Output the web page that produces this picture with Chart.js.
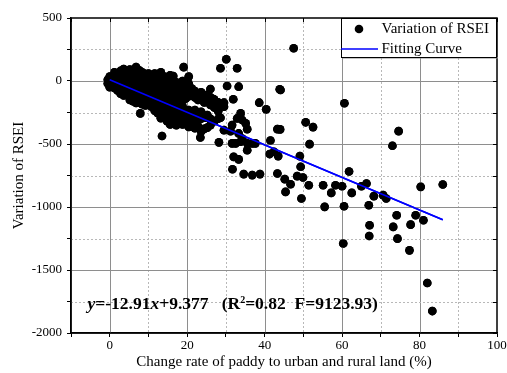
<!DOCTYPE html>
<html>
<head>
<meta charset="utf-8">
<script src="https://cdn.jsdelivr.net/npm/chart.js@4.4.1/dist/chart.umd.min.js"></script>
<style>
  html, body { margin: 0; padding: 0; background: #fff; }
  #wrap { width: 507px; height: 373px; }
</style>
</head>
<body>
<div id="wrap"><canvas id="rseiChart" width="507" height="373"></canvas></div>
<script>
// Dense band near the origin: x of each column and the y values read down it
const bandX = [-0.5, 0, 0.5, 1.2, 2, 2.8, 3.6, 4.4, 5.2, 6, 6.8, 7.6, 8.4, 9.2, 10, 10.8, 11.6, 12.4,
  13.2, 14, 14.8, 15.6, 16.4, 17.2, 18, 18.8, 19.6, 20.4, 21.2, 22, 22.8, 23.6, 24.4, 25.2, 26, 27, 28];
const bandY = [
  [10, -20],
  [35, 0, -30, -50],
  [20, -10, -45],
  [70, 30, -10, -55],
  [60, 20, -30, -75],
  [80, 40, -5, -50, -100],
  [95, 50, 5, -40, -85, -115],
  [70, 25, -20, -65, -110],
  [90, 45, 0, -50, -100, -150],
  [75, 30, -20, -70, -120, -160],
  [110, 60, 10, -40, -90, -140, -175],
  [85, 35, -15, -65, -115, -170],
  [70, 20, -30, -80, -130, -185],
  [55, 5, -45, -95, -145, -195],
  [60, 10, -40, -90, -140, -190],
  [45, -5, -55, -105, -155, -205],
  [60, 15, -35, -85, -135, -185, -235],
  [50, 0, -50, -100, -150, -200, -255],
  [70, 20, -30, -80, -130, -180, -230, -295],
  [35, -15, -65, -115, -165, -215, -270],
  [20, -30, -80, -130, -180, -230, -280, -320],
  [45, -5, -55, -105, -155, -205, -255, -305, -345],
  [40, -40, -90, -140, -190, -240, -290, -335],
  [-10, -60, -110, -160, -210, -260, -310, -350],
  [-30, -80, -130, -180, -230, -280, -330],
  [0, -50, -100, -150, -200, -250, -300, -345],
  [-40, -90, -140, -240, -290, -340],
  [35, -20, -70, -120, -230, -280, -330, -365],
  [-60, -110, -260, -310, -360],
  [-80, -130, -230, -330, -375],
  [-100, -150, -260, -310, -360],
  [-90, -140, -245, -300, -400],
  [-120, -170, -280, -380],
  [-110, -160, -270, -370],
  [-130, -190, -300, -350],
  [-150, -210, -320],
  [-170, -240, -300]
];

// Scattered points, [change rate %, RSEI variation]
const midPoints = [
  [19.1, 110], [30.1, 172], [28.6, 101], [32.9, 101], [26.0, -64], [30.3, -40], [33.3, -45],
  [26.9, -145], [29.5, -172], [31.9, -145], [27.6, -217], [28.6, -292], [24.7, -292], [29.5, -204],
  [33.8, -257], [32.9, -297], [34.2, -310], [35.1, -336], [35.5, -382], [31.6, -350], [29.5, -390],
  [31.2, -398], [13.5, -437], [7.9, -257], [23.4, -448], [28.2, -487], [31.6, -495], [32.5, -495],
  [33.8, -482], [33.3, -416], [34.2, -456], [35.5, -495], [36.8, -495], [37.6, -495], [35.5, -549],
  [32.0, -602], [33.3, -622], [31.7, -700], [34.6, -739], [36.8, -747], [38.8, -739]
];
const farPoints = [
  [47.5, 260], [44.1, -71], [43.9, -66], [38.6, -172], [40.4, -225], [60.6, -177], [50.6, -328],
  [52.5, -366], [44.0, -384], [43.3, -382], [51.6, -501], [41.5, -472], [74.6, -398], [73.0, -514],
  [49.1, -596], [49.3, -681], [41.3, -580], [43.5, -596], [42.4, -562], [61.8, -718], [43.3, -734],
  [48.4, -755], [49.9, -766], [45.2, -779], [46.7, -819], [51.4, -827], [55.1, -827], [58.3, -827],
  [60.0, -835], [65.0, -835], [66.3, -813], [80.3, -840], [86.0, -821], [45.4, -880], [49.5, -933],
  [57.2, -888], [62.5, -888], [55.5, -999], [60.5, -994], [60.3, -1290], [66.9, -986], [68.2, -914],
  [70.6, -906], [71.4, -933], [67.1, -1145], [67.0, -1230], [74.1, -1065], [73.2, -1158],
  [74.3, -1251], [77.4, -1344], [77.7, -1140], [79.0, -1065], [81.0, -1105], [82.0, -1603],
  [83.3, -1826]
];

// Fitting curve y = -12.91x + 9.377, end points
const fitX = [0, 86];
const fitY = [9.4, -1101];

const xLabels = [0, 20, 40, 60, 80, 100];
const yLabels = [500, 0, -500, -1000, -1500, -2000];

const scatterData = [];
bandX.forEach((x, i) => bandY[i].forEach(y => scatterData.push({ x: x, y: y })));
midPoints.concat(farPoints).forEach(p => scatterData.push({ x: p[0], y: p[1] }));
const fitData = fitX.map((x, i) => ({ x: x, y: fitY[i] }));

const serif = 'Liberation Serif, Times New Roman, serif';
const majorX = v => v % 20 === 0;
const majorY = v => v % 500 === 0;

// grid (solid major, dashed minor) drawn after the datasets, then the marks are drawn again on top
const gridPlugin = {
  id: 'gridLines',
  afterDatasetsDraw(chart) {
    const { ctx, chartArea: a, scales: { x, y } } = chart;
    ctx.save();
    ctx.lineWidth = 1;
    for (let v = 0; v < 100; v += 10) {
      const major = majorX(v);
      ctx.strokeStyle = major ? '#8e8e8e' : '#b8b8b8';
      ctx.setLineDash(major ? [] : [2, 2]);
      const px = Math.round(x.getPixelForValue(v)) + 0.5;
      ctx.beginPath(); ctx.moveTo(px, a.top); ctx.lineTo(px, a.bottom); ctx.stroke();
    }
    for (let v = -1750; v < 500; v += 250) {
      const major = majorY(v);
      ctx.strokeStyle = major ? '#8e8e8e' : '#b8b8b8';
      ctx.setLineDash(major ? [] : [2, 2]);
      const py = Math.round(y.getPixelForValue(v)) + 0.5;
      ctx.beginPath(); ctx.moveTo(a.left, py); ctx.lineTo(a.right, py); ctx.stroke();
    }
    ctx.setLineDash([]);
    // points, then the fitting line, back over the grid
    chart.getDatasetMeta(1).data.forEach(pt => pt.draw(ctx, a));
    chart.getDatasetMeta(0).dataset.draw(ctx, a);
    ctx.restore();
  }
};

// frame, inner ticks, legend box and equation
const decorPlugin = {
  id: 'decor',
  afterDraw(chart) {
    const { ctx, chartArea: a, scales: { x, y } } = chart;
    ctx.save();
    ctx.strokeStyle = '#000';
    ctx.lineWidth = 1.5;
    ctx.strokeRect(a.left, a.top, a.right - a.left, a.bottom - a.top);
    ctx.lineWidth = 1;
    ctx.beginPath();
    for (let v = -10; v <= 100; v += 10) {
      const px = Math.round(x.getPixelForValue(v)) + 0.5;
      ctx.moveTo(px, a.top); ctx.lineTo(px, a.top + 4);
    }
    for (let v = -2000; v <= 500; v += 250) {
      const py = Math.round(y.getPixelForValue(v)) + 0.5;
      ctx.moveTo(a.right, py); ctx.lineTo(a.right - 4, py);
    }
    ctx.stroke();

    // legend
    const ds = chart.data.datasets;
    const bx = 341, by = a.top, bw = a.right - bx, bh = 39;
    ctx.fillStyle = '#888';
    ctx.fillRect(bx + 1, by + bh, bw, 1.5);
    ctx.fillStyle = '#fff';
    ctx.fillRect(bx, by, bw, bh);
    ctx.strokeStyle = '#000';
    ctx.lineWidth = 1;
    ctx.strokeRect(bx + 0.5, by + 0.5, bw - 1, bh);
    ctx.fillStyle = '#000';
    ctx.beginPath();
    ctx.arc(359, by + 11, 4.3, 0, Math.PI * 2);
    ctx.fill();
    ctx.strokeStyle = '#0000ff';
    ctx.lineWidth = 1.5;
    ctx.beginPath();
    ctx.moveTo(bx, by + 31); ctx.lineTo(378, by + 31);
    ctx.stroke();
    ctx.font = '15px ' + serif;
    ctx.textBaseline = 'middle';
    ctx.fillText(ds[1].label, 381.5, by + 11);
    ctx.fillText(ds[0].label, 381.5, by + 31);

    // equation
    const parts = [
      ['y', 'italic bold 17.5px '], ['=-12.91', 'bold 17.5px '], ['x', 'italic bold 17.5px '],
      ['+9.377   (R', 'bold 17.5px '], ['2', 'bold 10px '], ['=0.82  F=9123.93)', 'bold 17.5px ']
    ];
    let tx = 87.5;
    ctx.textBaseline = 'alphabetic';
    parts.forEach(p => {
      ctx.font = p[1] + serif;
      const dy = p[0] === '2' ? -6 : 0;
      ctx.fillText(p[0], tx, 309 + dy);
      tx += ctx.measureText(p[0]).width;
    });
    ctx.restore();
  }
};

new Chart(document.getElementById('rseiChart').getContext('2d'), {
  type: 'scatter',
  data: {
    datasets: [{
      label: 'Fitting Curve',
      data: fitData,
      showLine: true,
      borderColor: '#0000ff',
      borderWidth: 1.5,
      pointRadius: 0,
      order: 0
    }, {
      label: 'Variation of RSEI',
      data: scatterData,
      backgroundColor: '#000',
      borderColor: '#000',
      pointRadius: 4.3,
      borderWidth: 0,
      order: 1
    }]
  },
  options: {
    responsive: false,
    animation: false,
    layout: { padding: { top: 18, right: 10, left: 0, bottom: 0 } },
    plugins: { legend: { display: false }, tooltip: { enabled: false } },
    scales: {
      x: {
        min: -10, max: 100,
        afterFit: s => { s.height = 40; s.paddingRight = 0; s.paddingLeft = 0; },
        ticks: {
          stepSize: 10, autoSkip: false, maxRotation: 0, padding: 1, color: '#000',
          font: { family: serif, size: 13 },
          callback: v => xLabels.includes(v) ? v : ''
        },
        grid: { drawOnChartArea: false, tickLength: 4, tickColor: '#000', tickWidth: 1 },
        border: { color: '#000', width: 1.5 },
        title: {
          display: true, text: 'Change rate of paddy to urban and rural land (%)', color: '#000',
          font: { family: serif, size: 15 }, padding: { top: 0, bottom: 2 }
        }
      },
      y: {
        min: -2000, max: 500,
        afterFit: s => { s.width = 71; },
        ticks: {
          stepSize: 250, autoSkip: false, padding: 5, color: '#000',
          font: { family: serif, size: 13 },
          callback: v => yLabels.includes(v) ? v : ''
        },
        grid: { drawOnChartArea: false, tickLength: 4, tickColor: '#000', tickWidth: 1 },
        border: { color: '#000', width: 1.5 },
        title: {
          display: true, text: 'Variation of RSEI', color: '#000',
          font: { family: serif, size: 15 }, padding: { top: 10, bottom: 0 }
        }
      }
    }
  },
  plugins: [gridPlugin, decorPlugin]
});
</script>
</body>
</html>
